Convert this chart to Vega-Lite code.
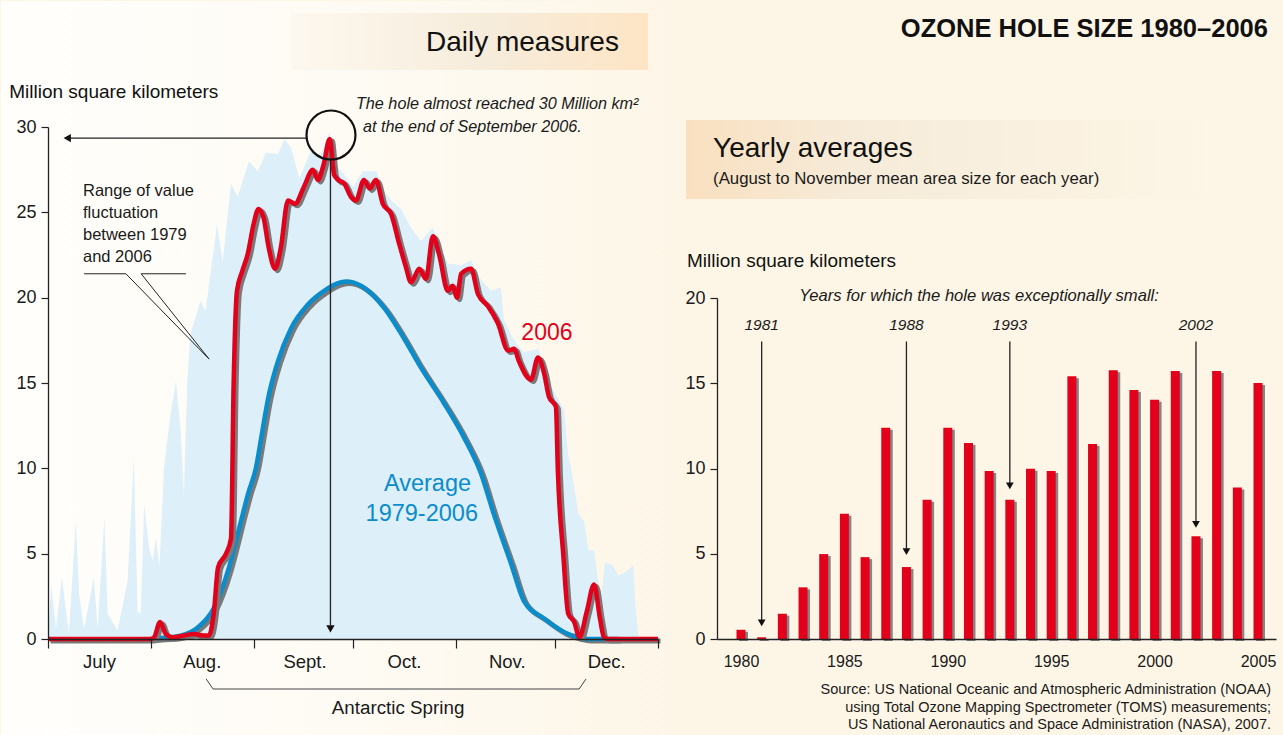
{
  "$schema": "https://vega.github.io/schema/vega-lite/v6.json",
  "autosize": {"type": "pad"},
  "padding": 0,
  "background": "#fdf6e6",
  "bounds": "flush",
  "spacing": 59,
  "config": {
    "font": "Liberation Sans",
    "view": {"stroke": null},
    "axis": {"grid": false, "domainColor": "#222222", "tickColor": "#222222", "labelColor": "#1a1a1a", "domainWidth": 1.3, "tickWidth": 1.2, "zindex": 1}
  },
  "datasets": {
    "range": [
      {"x":0,"y":0},{"x":1,"y":3.2},{"x":2.4,"y":0.6},{"x":4.2,"y":3.6},{"x":6.3,"y":0.3},{"x":8.4,"y":6.9},{"x":9.4,"y":2.6},{"x":10.9,"y":0.6},{"x":13.8,"y":3.6},{"x":15,"y":0.6},{"x":17,"y":7.1},{"x":18,"y":1.5},{"x":21,"y":0.5},{"x":24,"y":3.4},{"x":25.9,"y":10.6},{"x":27,"y":1.6},{"x":28,"y":1.5},{"x":29,"y":7.9},{"x":30.5,"y":5.3},{"x":31.6,"y":4.6},{"x":32.6,"y":5.9},{"x":33.6,"y":4.2},{"x":35,"y":10},{"x":36,"y":11.7},{"x":37,"y":13.2},{"x":38.6,"y":15.1},{"x":40,"y":12.2},{"x":41,"y":8.5},{"x":42,"y":15.1},{"x":43,"y":17.9},{"x":46,"y":19.8},{"x":47.5,"y":19.2},{"x":51,"y":24.3},{"x":52.7,"y":22.1},{"x":55.2,"y":26.7},{"x":57.2,"y":25.9},{"x":60.6,"y":28},{"x":63.3,"y":27.4},{"x":65.8,"y":28.5},{"x":69.4,"y":28.4},{"x":71.3,"y":29.3},{"x":73.3,"y":28.8},{"x":75.8,"y":27},{"x":79.3,"y":28.6},{"x":82,"y":28.3},{"x":85,"y":29.7},{"x":86.5,"y":27.8},{"x":89,"y":27.3},{"x":92,"y":26.5},{"x":95,"y":27.4},{"x":99,"y":27.4},{"x":101.5,"y":26.2},{"x":104,"y":25.6},{"x":106.5,"y":25.2},{"x":109.5,"y":24.1},{"x":112.5,"y":23.3},{"x":116,"y":24.1},{"x":118,"y":23.1},{"x":120.6,"y":22},{"x":124.6,"y":21.9},{"x":127.6,"y":22.2},{"x":130,"y":21.2},{"x":133.6,"y":20.4},{"x":136.6,"y":20.6},{"x":137.5,"y":18.7},{"x":140.6,"y":17.5},{"x":143.5,"y":16.8},{"x":148,"y":17},{"x":150.5,"y":15.3},{"x":153.5,"y":14.2},{"x":155.7,"y":13.4},{"x":156.9,"y":10.8},{"x":158,"y":9.8},{"x":160,"y":7.3},{"x":161.7,"y":6.9},{"x":163,"y":5.2},{"x":164.7,"y":5.2},{"x":166.8,"y":2.2},{"x":168,"y":4.5},{"x":170.4,"y":4.3},{"x":172,"y":3.7},{"x":174,"y":3.9},{"x":176.5,"y":4.3},{"x":177.2,"y":2},{"x":178,"y":0.3},{"x":179,"y":0},{"x":184,"y":0}
    ],
    "avg": [
      {"x":31,"y":0},{"x":33,"y":0.05},{"x":37,"y":0.1},{"x":40,"y":0.2},{"x":45,"y":0.65},{"x":50,"y":1.8},{"x":54.3,"y":4},{"x":56,"y":5.2},{"x":58.2,"y":6.9},{"x":60.5,"y":8.6},{"x":62.7,"y":10},{"x":64.5,"y":12},{"x":66.4,"y":14.1},{"x":69.4,"y":16.3},{"x":73.3,"y":18.2},{"x":78.4,"y":19.6},{"x":83.3,"y":20.4},{"x":88.4,"y":20.9},{"x":90,"y":20.95},{"x":92,"y":20.9},{"x":94.4,"y":20.7},{"x":101.4,"y":19.4},{"x":106.5,"y":17.9},{"x":112.5,"y":15.9},{"x":119.5,"y":13.8},{"x":125.5,"y":11.8},{"x":130.6,"y":9.7},{"x":134.5,"y":7.3},{"x":139.7,"y":4.4},{"x":143.6,"y":2.2},{"x":149.6,"y":1.2},{"x":155.7,"y":0.4},{"x":160,"y":0.1},{"x":163,"y":0},{"x":172,"y":0}
    ],
    "y2006": [
      {"x":0,"y":0},{"x":31,"y":0},{"x":32,"y":0.1},{"x":33.8,"y":1.0},{"x":35.5,"y":0.3},{"x":37.5,"y":0.1},{"x":41,"y":0.2},{"x":44,"y":0.3},{"x":47,"y":0.2},{"x":48.5,"y":0.2},{"x":50,"y":1.5},{"x":51.3,"y":4.2},{"x":53.7,"y":5.0},{"x":55.2,"y":5.9},{"x":56,"y":15},{"x":57,"y":20.4},{"x":58.5,"y":21.5},{"x":60.3,"y":22.6},{"x":62,"y":24.3},{"x":63.5,"y":25.2},{"x":65,"y":24.7},{"x":66.5,"y":23},{"x":68.5,"y":21.7},{"x":70.2,"y":22.9},{"x":72.4,"y":25.7},{"x":74.5,"y":25.5},{"x":77.2,"y":26.5},{"x":79.9,"y":27.5},{"x":81.4,"y":26.9},{"x":83,"y":27.7},{"x":85,"y":29.3},{"x":86.3,"y":27.2},{"x":87.5,"y":26.9},{"x":89.3,"y":26.7},{"x":91.4,"y":25.9},{"x":92.9,"y":25.7},{"x":95.3,"y":26.9},{"x":97,"y":26.4},{"x":98.9,"y":26.9},{"x":101,"y":25.5},{"x":103.5,"y":24.9},{"x":106,"y":23.1},{"x":107.8,"y":21.9},{"x":109.5,"y":20.9},{"x":112,"y":21.7},{"x":114,"y":21.1},{"x":116.1,"y":23.6},{"x":118,"y":22.5},{"x":120.6,"y":20.4},{"x":122,"y":20.7},{"x":123.4,"y":20},{"x":124.6,"y":21.4},{"x":127.6,"y":21.7},{"x":129.7,"y":20.2},{"x":132.7,"y":19.5},{"x":135.7,"y":18.5},{"x":138.8,"y":16.9},{"x":140.6,"y":17},{"x":142,"y":16.3},{"x":145.7,"y":15.2},{"x":147.8,"y":16.5},{"x":149.6,"y":15.6},{"x":151.1,"y":14.2},{"x":153.2,"y":13.6},{"x":153.8,"y":9.8},{"x":155.4,"y":5},{"x":156.9,"y":1.5},{"x":158.7,"y":1.0},{"x":160.3,"y":0.1},{"x":162.5,"y":1.6},{"x":164.7,"y":3.2},{"x":166.5,"y":1.2},{"x":167.7,"y":0.1},{"x":169,"y":0},{"x":184,"y":0}
    ],
    "bars": [
      {"x":1980,"y":0.54},{"x":1981,"y":0.1},{"x":1982,"y":1.48},{"x":1983,"y":3.03},{"x":1984,"y":4.98},{"x":1985,"y":7.35},{"x":1986,"y":4.8},{"x":1987,"y":12.39},{"x":1988,"y":4.22},{"x":1989,"y":8.17},{"x":1990,"y":12.39},{"x":1991,"y":11.5},{"x":1992,"y":9.86},{"x":1993,"y":8.17},{"x":1994,"y":9.98},{"x":1995,"y":9.86},{"x":1996,"y":15.41},{"x":1997,"y":11.44},{"x":1998,"y":15.76},{"x":1999,"y":14.61},{"x":2000,"y":14.03},{"x":2001,"y":15.72},{"x":2002,"y":6.03},{"x":2003,"y":15.72},{"x":2004,"y":8.89},{"x":2005,"y":15.02}
    ]
  },
  "hconcat": [
    {
      "width": 610,
      "height": 512,
      "encoding": {
        "x": {"field": "x", "type": "quantitative", "scale": {"domain": [0, 184], "nice": false, "zero": false, "padding": 0},
          "axis": {"zindex": 2, "values": [0, 31, 62, 92, 123, 153, 184], "labelExpr": "datum.value==0?'July':datum.value==31?'Aug.':datum.value==62?'Sept.':datum.value==92?'Oct.':datum.value==123?'Nov.':datum.value==153?'Dec.':''", "labelOffset": 51, "tickSize": 9, "labelFontSize": 18.5, "labelPadding": 4, "title": null, "labelOverlap": false, "labelBound": false, "labelFlush": false}},
        "y": {"field": "y", "type": "quantitative", "scale": {"domain": [0, 30], "nice": false, "zero": false, "padding": 0},
          "axis": {"zindex": 2, "values": [0, 5, 10, 15, 20, 25, 30], "tickSize": 7, "labelFontSize": 18, "labelPadding": 5, "title": null}}
      },
      "layer": [
        {
          "data": {"values": [{"x": -14.18, "x2": 192.18, "y": 37.383, "y2": -5.684}]},
          "mark": {"type": "rect", "fill": {"gradient": "linear", "x1": 0, "y1": 0, "x2": 1, "y2": 0, "stops": [{"offset": 0, "color": "#fffefb"}, {"offset": 0.5, "color": "#fefbf4"}, {"offset": 1, "color": "#fdf6e7"}]}},
          "encoding": {"x2": {"field": "x2"}, "y2": {"field": "y2"}}
        },
        {
          "data": {"values": [{"x": 73.3, "x2": 181.0, "y": 36.68, "y2": 33.34}]},
          "mark": {"type": "rect", "fill": {"gradient": "linear", "x1": 0, "y1": 0, "x2": 1, "y2": 0, "stops": [{"offset": 0, "color": "#fdf8ef"}, {"offset": 0.55, "color": "#f6ecdb"}, {"offset": 1, "color": "#fde5c5"}]}},
          "encoding": {"x2": {"field": "x2"}, "y2": {"field": "y2"}}
        },
        {
          "data": {"values": [{"x": 172.2, "y": 34.92, "t": "Daily measures"}]},
          "mark": {"type": "text", "align": "right", "baseline": "middle", "fontSize": 28, "color": "#111111"},
          "encoding": {"text": {"field": "t"}}
        },
        {
          "data": {"values": [{"x": -11.7, "y": 32.05, "t": "Million square kilometers"}]},
          "mark": {"type": "text", "align": "left", "baseline": "middle", "fontSize": 19, "color": "#111111"},
          "encoding": {"text": {"field": "t"}}
        },
        {
          "data": {"name": "range"},
          "mark": {"type": "area", "color": "#ddeff9", "interpolate": "linear"}
        },
        {
          "data": {"name": "avg"},
          "mark": {"type": "line", "color": "#7a7a7a", "strokeWidth": 5, "interpolate": "monotone", "xOffset": 2.5, "yOffset": 2}
        },
        {
          "data": {"name": "avg"},
          "mark": {"type": "line", "color": "#0b8ccb", "strokeWidth": 4.5, "interpolate": "monotone"}
        },
        {
          "data": {"name": "y2006"},
          "mark": {"type": "line", "color": "#7a7a7a", "strokeWidth": 5, "interpolate": "monotone", "xOffset": 2.5, "yOffset": 2}
        },
        {
          "data": {"name": "y2006"},
          "mark": {"type": "line", "color": "#e2001a", "strokeWidth": 4.5, "interpolate": "monotone"}
        },
        {
          "data": {"values": [{"x": 5.5, "x2": 78.2, "y": 29.35, "y2": 29.35}, {"x": 85.2, "x2": 85.2, "y": 28.1, "y2": 0.8}]},
          "mark": {"type": "rule", "color": "#222222", "strokeWidth": 1.3},
          "encoding": {"x2": {"field": "x2"}, "y2": {"field": "y2"}}
        },
        {
          "data": {"values": [{"x": 5.8, "y": 29.35, "s": "triangle-left"}, {"x": 85.2, "y": 0.6, "s": "triangle-down"}]},
          "mark": {"type": "point", "filled": true, "size": 70, "color": "#111111", "opacity": 1},
          "encoding": {"shape": {"field": "s", "type": "nominal", "scale": null, "legend": null}}
        },
        {
          "data": {"values": [{"x": 85.36, "y": 29.53}]},
          "mark": {"type": "point", "shape": "circle", "filled": false, "size": 2400, "stroke": "#111111", "strokeWidth": 2.2, "opacity": 1}
        },
        {
          "data": {"values": [{"x": 92.9, "y": 31.35, "t": "The hole almost reached 30 Million km²"}, {"x": 95.0, "y": 30.0, "t": "at the end of September 2006."}]},
          "mark": {"type": "text", "align": "left", "baseline": "middle", "fontSize": 16.2, "fontStyle": "italic", "color": "#1a1a1a"},
          "encoding": {"text": {"field": "t"}}
        },
        {
          "data": {"values": [{"x": 10.56, "y": 26.25, "t": "Range of value"}, {"x": 10.56, "y": 24.96, "t": "fluctuation"}, {"x": 10.56, "y": 23.67, "t": "between 1979"}, {"x": 10.56, "y": 22.38, "t": "and 2006"}]},
          "mark": {"type": "text", "align": "left", "baseline": "middle", "fontSize": 16.5, "color": "#1a1a1a"},
          "encoding": {"text": {"field": "t"}}
        },
        {
          "data": {"values": [{"x": 10.9, "x2": 23.5, "y": 21.4, "y2": 21.4}, {"x": 23.5, "x2": 48.6, "y": 21.4, "y2": 16.4}, {"x": 28.1, "x2": 41.6, "y": 21.4, "y2": 21.4}, {"x": 28.1, "x2": 48.6, "y": 21.4, "y2": 16.4}]},
          "mark": {"type": "rule", "color": "#222222", "strokeWidth": 1},
          "encoding": {"x2": {"field": "x2"}, "y2": {"field": "y2"}}
        },
        {
          "data": {"values": [{"x": 150.5, "y": 17.93, "t": "2006"}]},
          "mark": {"type": "text", "align": "center", "baseline": "middle", "fontSize": 23, "color": "#e2001a"},
          "encoding": {"text": {"field": "t"}}
        },
        {
          "data": {"values": [{"x": 127.6, "y": 9.08, "t": "Average"}, {"x": 129.7, "y": 7.32, "t": "1979-2006"}]},
          "mark": {"type": "text", "align": "right", "baseline": "middle", "fontSize": 23.5, "color": "#0b8ccb"},
          "encoding": {"text": {"field": "t"}}
        },
        {
          "data": {"values": [{"x": 47.7, "y": -2.34, "o": 1}, {"x": 49.8, "y": -2.93, "o": 2}, {"x": 160.2, "y": -2.93, "o": 3}, {"x": 162.3, "y": -2.34, "o": 4}]},
          "mark": {"type": "line", "color": "#444444", "strokeWidth": 1},
          "encoding": {"order": {"field": "o", "type": "quantitative"}}
        },
        {
          "data": {"values": [{"x": 105.6, "y": -4.04, "t": "Antarctic Spring"}]},
          "mark": {"type": "text", "align": "center", "baseline": "middle", "fontSize": 18.8, "color": "#1a1a1a"},
          "encoding": {"text": {"field": "t"}}
        }
      ]
    },
    {
      "width": 559,
      "height": 512,
      "encoding": {
        "x": {"field": "x", "type": "quantitative", "scale": {"domain": [1978.84, 2005.87], "nice": false, "zero": false, "padding": 0},
          "axis": {"zindex": 2, "values": [1980, 1985, 1990, 1995, 2000, 2005], "format": "d", "ticks": false, "tickSize": 0, "labelFontSize": 16, "labelPadding": 14, "title": null, "labelOverlap": false, "labelBound": false, "labelFlush": false}},
        "y": {"field": "y", "type": "quantitative", "scale": {"domain": [0, 20], "range": [512, 171], "nice": false, "zero": false, "padding": 0},
          "axis": {"zindex": 2, "values": [0, 5, 10, 15, 20], "tickSize": 7, "labelFontSize": 18, "labelPadding": 5, "title": null}}
      },
      "layer": [
        {
          "data": {"values": [{"x": 1977.244, "x2": 2006.26, "y": 37.42, "y2": -5.69}]},
          "mark": {"type": "rect", "color": "#fdf6e6"},
          "encoding": {"x2": {"field": "x2"}, "y2": {"field": "y2"}}
        },
        {
          "data": {"values": [{"x": 1977.34, "x2": 2003.45, "y": 30.44, "y2": 25.81}]},
          "mark": {"type": "rect", "fill": {"gradient": "linear", "x1": 0, "y1": 0, "x2": 1, "y2": 0, "stops": [{"offset": 0, "color": "#f9e0bf"}, {"offset": 0.3, "color": "#f6ebd9"}, {"offset": 1, "color": "#fdf6e6"}]}},
          "encoding": {"x2": {"field": "x2"}, "y2": {"field": "y2"}}
        },
        {
          "data": {"values": [{"x": 2005.48, "y": 35.78, "t": "OZONE HOLE SIZE 1980–2006"}]},
          "mark": {"type": "text", "align": "right", "baseline": "middle", "fontSize": 25.5, "fontWeight": "bold", "color": "#111111"},
          "encoding": {"text": {"field": "t"}}
        },
        {
          "data": {"values": [{"x": 1978.65, "y": 28.74, "t": "Yearly averages"}]},
          "mark": {"type": "text", "align": "left", "baseline": "middle", "fontSize": 28, "color": "#111111"},
          "encoding": {"text": {"field": "t"}}
        },
        {
          "data": {"values": [{"x": 1978.65, "y": 26.98, "t": "(August to November mean area size for each year)"}]},
          "mark": {"type": "text", "align": "left", "baseline": "middle", "fontSize": 16.8, "color": "#1a1a1a"},
          "encoding": {"text": {"field": "t"}}
        },
        {
          "data": {"values": [{"x": 1977.39, "y": 22.17, "t": "Million square kilometers"}]},
          "mark": {"type": "text", "align": "left", "baseline": "middle", "fontSize": 19, "color": "#111111"},
          "encoding": {"text": {"field": "t"}}
        },
        {
          "data": {"values": [{"x": 1991.51, "y": 20.1, "t": "Years for which the hole was exceptionally small:"}]},
          "mark": {"type": "text", "align": "center", "baseline": "middle", "fontSize": 16.6, "fontStyle": "italic", "color": "#1a1a1a"},
          "encoding": {"text": {"field": "t"}}
        },
        {
          "data": {"values": [{"x": 1981, "y": 18.44, "t": "1981"}, {"x": 1988, "y": 18.44, "t": "1988"}, {"x": 1993, "y": 18.44, "t": "1993"}, {"x": 2002, "y": 18.44, "t": "2002"}]},
          "mark": {"type": "text", "align": "center", "baseline": "middle", "fontSize": 15.5, "fontStyle": "italic", "color": "#1a1a1a"},
          "encoding": {"text": {"field": "t"}}
        },
        {
          "data": {"values": [{"x": 2005.63, "y": -2.99, "t": "Source: US National Oceanic and Atmospheric Administration (NOAA)"}, {"x": 2005.63, "y": -4.05, "t": "using Total Ozone Mapping Spectrometer (TOMS) measurements;"}, {"x": 2005.63, "y": -5.04, "t": "US National Aeronautics and Space Administration (NASA), 2007."}]},
          "mark": {"type": "text", "align": "right", "baseline": "middle", "fontSize": 14.5, "color": "#1a1a1a"},
          "encoding": {"text": {"field": "t"}}
        },
        {
          "data": {"name": "bars"},
          "mark": {"type": "bar", "color": "#858585", "size": 9, "xOffset": 2.5, "yOffset": 2}
        },
        {
          "data": {"name": "bars"},
          "mark": {"type": "bar", "color": "#e2001a", "size": 9}
        },
        {
          "data": {"values": [{"x": 1981, "y": 17.45, "y2": 0.95}, {"x": 1988, "y": 17.45, "y2": 5.1}, {"x": 1993, "y": 17.45, "y2": 8.95}, {"x": 2002, "y": 17.45, "y2": 6.7}]},
          "mark": {"type": "rule", "color": "#222222", "strokeWidth": 1.3},
          "encoding": {"y2": {"field": "y2"}}
        },
        {
          "data": {"values": [{"x": 1981, "y": 0.94}, {"x": 1988, "y": 5.12}, {"x": 1993, "y": 8.98}, {"x": 2002, "y": 6.72}]},
          "mark": {"type": "point", "shape": "triangle-down", "filled": true, "size": 60, "color": "#111111", "opacity": 1}
        }
      ]
    }
  ]
}
